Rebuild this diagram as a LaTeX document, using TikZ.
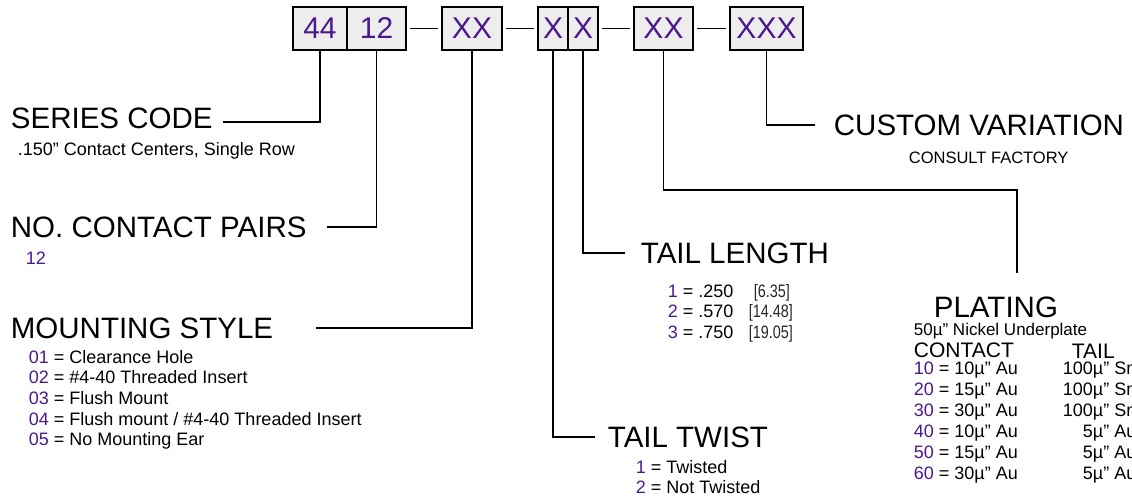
\documentclass[tikz,border=0pt]{standalone}
\usepackage{fontspec}
\setmainfont{Liberation Sans}
\newfontfamily\narrowfont[FakeStretch=0.8]{Liberation Sans}
\usetikzlibrary{positioning}
\definecolor{codepurple}{RGB}{75,25,140}
\definecolor{boxgray}{RGB}{237,237,237}
\newcommand{\codenum}[1]{\textcolor{codepurple}{#1}}

\begin{document}
\begin{tikzpicture}[
        x=1pt, y=-1pt, % ось y вниз
        line width=1.8pt,
        box/.style={draw, fill=boxgray, text=codepurple, minimum height=43pt, inner sep=0pt, outer sep=0pt, font=\fontsize{30}{30}\selectfont}, % поля кода
        head/.style={anchor=base west, inner sep=0pt, font=\fontsize{29.5}{30}\selectfont}, % заголовки
        entry/.style={anchor=base west, inner sep=0pt, font=\fontsize{18}{20}\selectfont},
        colhead/.style={entry, font=\fontsize{21}{22}\selectfont},
        bracket/.style={entry, text=black!85, font=\narrowfont\fontsize{18}{20}\selectfont},
    ]
    \useasboundingbox (0,0) rectangle (1132,498);

    % поля кода
    \node[box, minimum width=54pt, anchor=west] (b44) at (293,28.5) {44};
    \node[box, minimum width=59pt, right=0pt of b44] (b12) {12};
    \node[box, minimum width=60pt, right=36pt of b12] (bms) {XX};
    \node[box, minimum width=30pt, right=36pt of bms] (btw) {X};
    \node[box, minimum width=30pt, right=0pt of btw] (btl) {X};
    \node[box, minimum width=59pt, right=36pt of btl] (bpl) {XX};
    \node[box, minimum width=73pt, right=37pt of bpl] (bcv) {XXX};
    \foreach \a/\b in {b12/bms, bms/btw, btl/bpl, bpl/bcv}
        \draw ([xshift=4pt]\a.east) -- ([xshift=-4pt]\b.west);

    % подписи слева
    \node[head] (series) at (10,128) {SERIES CODE};
    \node[entry] (seriesnote) at (17,155) {.150” Contact Centers, Single Row};
    \node[head] (pairs) at (10,237) {NO. CONTACT PAIRS};
    \node[entry, text=codepurple] (pairsnote) at (25,264) {12};
    \node[head] (mount) at (10,338) {MOUNTING STYLE};
    \foreach \k/\txt [count=\i] in {01/Clearance Hole, 02/\#4-40 Threaded Insert, 03/Flush Mount,
            04/{Flush mount / \#4-40 Threaded Insert}, 05/No Mounting Ear}
        \node[entry] (ms\i) at (28, 342.3+20.7*\i) {\codenum{\k} = \txt};

    % хвост
    \node[head] (tlen) at (640,263) {TAIL LENGTH};
    \foreach \k/\val/\mm/\bx [count=\i] in {1/.250/6.35/753, 2/.570/14.48/748, 3/.750/19.05/748} {
        \node[entry] (tl\i) at (667, 276.5+20.5*\i) {\codenum{\k} = \val};
        \node[bracket] (tlb\i) at (\bx, 276.5+20.5*\i) {[\mm]};
    }
    \node[head] (twist) at (607,447) {TAIL TWIST};
    \node[entry] (tw1) at (635,473) {\codenum{1} = Twisted};
    \node[entry] (tw2) at (635,493) {\codenum{2} = Not Twisted};

    % справа
    \node[head] (custom) at (833,135) {CUSTOM VARIATION};
    \node[entry, font=\fontsize{16.5}{18}\selectfont] (consult) at (908,163) {CONSULT FACTORY};
    \node[head] (plating) at (933,317) {PLATING};
    \node[entry, font=\fontsize{17}{18}\selectfont] (nickel) at (913,335) {50µ” Nickel Underplate};
    \node[colhead] (contact) at (913,357) {CONTACT};
    \node[colhead] (tail) at (1071,358) {TAIL};
    \foreach \k/\au/\tl/\tx [count=\i] in {10/10/100µ” Sn/1062, 20/15/100µ” Sn/1062, 30/30/100µ” Sn/1062,
            40/10/5µ” Au/1082, 50/15/5µ” Au/1082, 60/30/5µ” Au/1082} {
        \node[entry] (pc\i) at (913, 353+21*\i) {\codenum{\k} = \au µ” Au};
        \node[entry] (pt\i) at (\tx, 353+21*\i) {\tl};
    }

    % выноски
    \draw (b44.south) |- ([xshift=10pt,yshift=-4pt]series.east);
    \draw (b12.south) |- ([xshift=20pt]pairs.east);
    \draw (bms.south) |- ([xshift=42pt]mount.east);
    \draw (btw.south) |- ([xshift=-12pt]twist.west);
    \draw (btl.south) |- ([xshift=-15pt]tlen.west);
    \draw (bpl.south) -- ++(0,140) -| ([xshift=21pt,yshift=23pt]plating.north);
    \draw (bcv.south) |- ([xshift=-18pt]custom.west);
\end{tikzpicture}
\end{document}
